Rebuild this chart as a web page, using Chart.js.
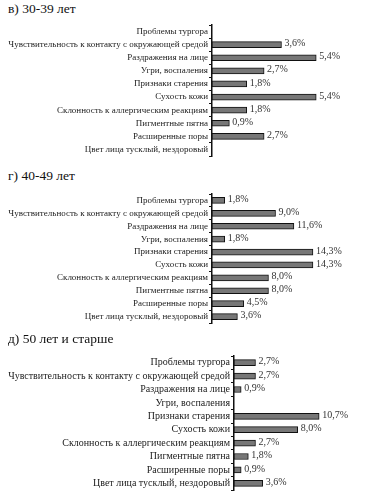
<!DOCTYPE html>
<html>
<head>
<meta charset="utf-8">
<script src="https://cdn.jsdelivr.net/npm/chart.js@4/dist/chart.umd.min.js"></script>
<style>
  body { margin: 0; background: #fff; width: 369px; height: 500px; position: relative; overflow: hidden; }
  .ttl { position: absolute; left: 8px; font: 13.5px "Liberation Serif", "Times New Roman", serif; color: #111; white-space: nowrap; }
  canvas { position: absolute; left: 0; }
</style>
</head>
<body>
<div class="ttl" style="top:1px">в) 30-39 лет</div>
<canvas id="c1"></canvas>
<div class="ttl" style="top:168px">г) 40-49 лет</div>
<canvas id="c2"></canvas>
<div class="ttl" style="top:331px">д) 50 лет и старше</div>
<canvas id="c3"></canvas>
<script>
const categories = [
  'Проблемы тургора',
  'Чувствительность к контакту с окружающей средой',
  'Раздражения на лице',
  'Угри, воспаления',
  'Признаки старения',
  'Сухость кожи',
  'Склонность к аллергическим реакциям',
  'Пигментные пятна',
  'Расширенные поры',
  'Цвет лица тусклый, нездоровый'
];
const age30_39 = [0, 3.6, 5.4, 2.7, 1.8, 5.4, 1.8, 0.9, 2.7, 0];
const age40_49 = [1.8, 9.0, 11.6, 1.8, 14.3, 14.3, 8.0, 8.0, 4.5, 3.6];
const age50plus = [2.7, 2.7, 0.9, 0, 10.7, 8.0, 2.7, 1.8, 0.9, 3.6];

const serif = '"Liberation Serif", "Times New Roman", serif';
const PAD = 10; // vertical padding, larger than the tick-label overflow

// draws "5,4%" next to each bar end
const valueLabels = {
    id: 'valueLabels',
    afterDatasetsDraw(chart) {
        const ctx = chart.ctx;
        const ds = chart.data.datasets[0];
        const meta = chart.getDatasetMeta(0);
        ctx.save();
        ctx.font = '10px ' + serif;
        ctx.fillStyle = '#333';
        ctx.textBaseline = 'middle';
        meta.data.forEach((bar, i) => {
            const v = ds.data[i];
            if (!v) return;
            ctx.fillText(v.toFixed(1).replace('.', ',') + '%', bar.x + 3, bar.y - 1);
        });
        ctx.restore();
    }
};

const makeChart = function(id, values, top, height, axisX, xMax, padRight, labelSize) {
    const canvas = document.getElementById(id);
    canvas.width = 369;
    canvas.height = height + 2 * PAD;
    canvas.style.top = (top - PAD) + 'px';
    return new Chart(canvas, {
        type: 'bar',
        data: {
            labels: categories,
            datasets: [{
                data: values,
                backgroundColor: '#777',
                borderColor: '#111',
                borderWidth: 1,
                barThickness: 6,
                borderSkipped: false
            }]
        },
        options: {
            indexAxis: 'y',
            responsive: false,
            animation: false,
            layout: { padding: { left: 0, right: padRight, top: PAD, bottom: PAD } },
            plugins: { legend: { display: false }, tooltip: { enabled: false } },
            scales: {
                x: { display: false, min: 0, max: xMax },
                y: {
                    afterFit: function(scale) { scale.width = axisX; },
                    grid: { drawOnChartArea: false, tickLength: 3, color: '#111' },
                    border: { color: '#111', width: 1.5 },
                    ticks: { color: '#222', padding: 1, autoSkip: false, font: { family: serif, size: labelSize } }
                }
            }
        },
        plugins: [valueLabels]
    });
};

makeChart('c1', age30_39, 24.5, 131, 212, 8, 2.6, 9);
makeChart('c2', age40_49, 193.6, 129, 212, 22, 1.7, 9);
makeChart('c3', age50plus, 355.6, 134, 234, 16.5, 3.7, 10);
</script>
</body>
</html>
